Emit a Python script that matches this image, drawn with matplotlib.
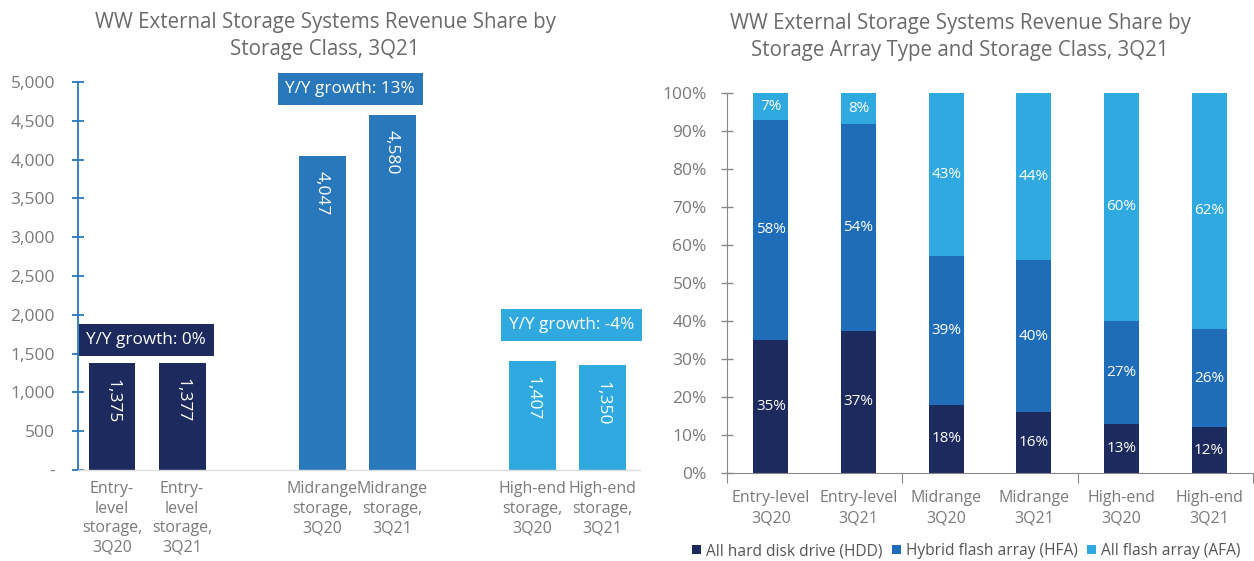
import matplotlib
matplotlib.use("Agg")
import matplotlib.pyplot as plt
import numpy as np

plt.rcParams['font.family'] = ['Open Sans', 'DejaVu Sans']

# ---- Left chart data ----
left_cats = ["Entry-\nlevel\nstorage,\n3Q20", "Entry-\nlevel\nstorage,\n3Q21",
             "Midrange\nstorage,\n3Q20", "Midrange\nstorage,\n3Q21",
             "High-end\nstorage,\n3Q20", "High-end\nstorage,\n3Q21"]
left_vals = [1375, 1377, 4047, 4580, 1407, 1350]
left_labels = ["1,375", "1,377", "4,047", "4,580", "1,407", "1,350"]
growth_texts = ["Y/Y growth: 0%", "Y/Y growth: 13%", "Y/Y growth: -4%"]
left_yticks = [0, 500, 1000, 1500, 2000, 2500, 3000, 3500, 4000, 4500, 5000]
left_yticklabels = ["-", "500", "1,000", "1,500", "2,000", "2,500", "3,000",
                    "3,500", "4,000", "4,500", "5,000"]

# ---- Right chart data ----
right_cats = ["Entry-level\n3Q20", "Entry-level\n3Q21", "Midrange\n3Q20",
              "Midrange\n3Q21", "High-end\n3Q20", "High-end\n3Q21"]
hdd = [35, 37, 18, 16, 13, 12]
hfa = [58, 54, 39, 40, 27, 26]
afa = [7, 8, 43, 44, 60, 62]
series_names = ["All hard disk drive (HDD)", "Hybrid flash array (HFA)", "All flash array (AFA)"]

NAVY = "#1d2a5e"
MID = "#2a78bc"
LIGHT = "#30a8e0"
HFA_C = "#1f6db8"
GRAY = "#7a7a7a"
TITLE_C = "#6a6a6a"

fig = plt.figure(figsize=(12.54, 5.61), dpi=100)

# ================= LEFT =================
axL = fig.add_axes([78/1254, 1-470/561, 562/1254, (470-82)/561])
xpos = [0, 1, 3, 4, 6, 7]
colors = [NAVY, NAVY, MID, MID, LIGHT, LIGHT]
axL.bar(xpos, left_vals, width=0.67, color=colors)
axL.set_xlim(-0.486, 7.54)
axL.set_ylim(0, 5000)
axL.set_yticks(left_yticks)
axL.set_yticklabels(left_yticklabels)
axL.set_xticks(xpos)
axL.set_xticklabels(left_cats)
axL.tick_params(axis='x', length=0, colors=GRAY, labelsize=11.5, pad=8)
axL.tick_params(axis='y', direction='inout', length=9, width=1.3, color=MID,
                labelcolor=GRAY, labelsize=12.5, pad=12)
for lab in axL.get_xticklabels():
    lab.set_linespacing(1.3)
for s in ['top', 'right']:
    axL.spines[s].set_visible(False)
axL.spines['left'].set_color(MID)
axL.spines['left'].set_linewidth(1.3)
axL.spines['bottom'].set_color("#dcdcdc")
axL.spines['bottom'].set_linewidth(1.0)

for x, v, t in zip(xpos, left_vals, left_labels):
    axL.annotate(t, (x, v), xytext=(0, -11), textcoords='offset points',
                 rotation=-90, ha='center', va='top', color='white', fontsize=12.5)

box_pos = [(0.49, 1676), (3.4, 4910), (6.56, 1869)]
box_cols = [NAVY, MID, LIGHT]
for (bx, by), t, c in zip(box_pos, growth_texts, box_cols):
    axL.text(bx, by, t, ha='center', va='center', color='white', fontsize=12.3,
             bbox=dict(boxstyle='square,pad=0.45', fc=c, ec='none'), zorder=5)

fig.text(325/1254, 1-36/561,
         "WW External Storage Systems Revenue Share by\nStorage Class, 3Q21",
         ha='center', va='center', fontsize=14.8, color=TITLE_C, linespacing=1.35)

# ================= RIGHT =================
axR = fig.add_axes([727/1254, 1-473/561, 526/1254, (473-93)/561])
xr = np.arange(len(right_cats))
data = np.array([hdd, hfa, afa], dtype=float)
tot = data.sum(axis=0)
frac = data / tot * 100
bottoms = np.zeros(len(right_cats))
cols_r = [NAVY, HFA_C, LIGHT]
for i in range(3):
    axR.bar(xr, frac[i], bottom=bottoms, width=0.40, color=cols_r[i], label=series_names[i])
    for j in range(len(xr)):
        axR.text(xr[j], bottoms[j] + frac[i][j] / 2, f"{int(data[i][j])}%",
                 ha='center', va='center', color='white', fontsize=11)
    bottoms += frac[i]

axR.set_xlim(-0.5, 5.5)
axR.set_ylim(0, 100)
axR.set_yticks(np.arange(0, 101, 10))
axR.set_yticklabels([f"{v}%" for v in range(0, 101, 10)])
axR.tick_params(axis='y', direction='inout', length=9, width=1.0, color="#888888",
                labelcolor=GRAY, labelsize=12.5, pad=10)
axR.set_xticks([-0.5, 1.5, 3.5, 5.5])
axR.set_xticklabels([])
axR.set_xticks(xr, minor=True)
axR.set_xticklabels(right_cats, minor=True)
axR.tick_params(axis='x', which='major', direction='out', length=7, color="#888888")
axR.tick_params(axis='x', which='minor', length=0, colors=GRAY, labelsize=11.5, pad=12)
for lab in axR.get_xticklabels(minor=True):
    lab.set_linespacing(1.4)
for s in ['top', 'right']:
    axR.spines[s].set_visible(False)
axR.spines['left'].set_color("#888888")
axR.spines['bottom'].set_color("#888888")

leg = fig.legend(loc='center', bbox_to_anchor=(966/1254, 1-551/561), ncol=3,
                 frameon=False, fontsize=11.2, handlelength=0.6, handleheight=0.6,
                 handletextpad=0.3, columnspacing=0.6)
for t in leg.get_texts():
    t.set_color("#555555")

fig.text(960/1254, 1-37/561,
         "WW External Storage Systems Revenue Share by\nStorage Array Type and Storage Class, 3Q21",
         ha='center', va='center', fontsize=14.8, color=TITLE_C, linespacing=1.35)

fig.savefig("out.png", dpi=100, facecolor='white')
